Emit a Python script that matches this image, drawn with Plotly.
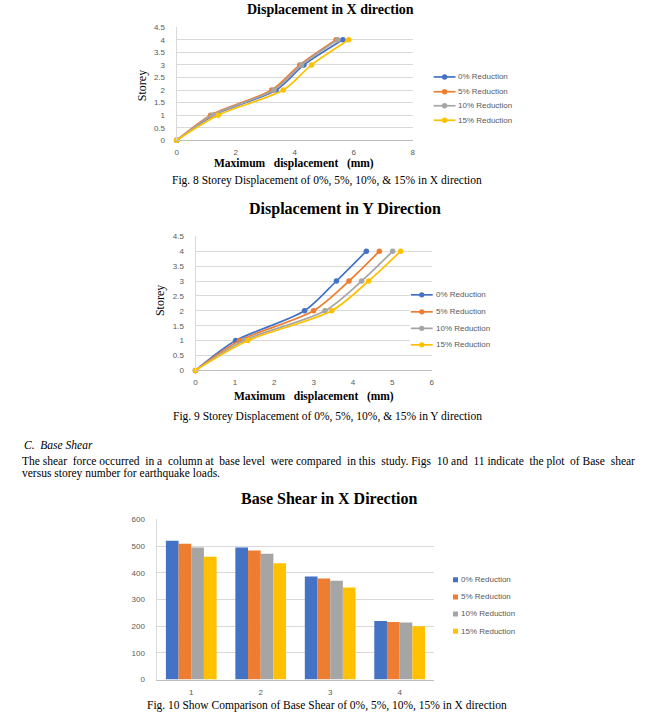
import plotly.graph_objects as go

W, H = 654, 719

# ---------------- data ----------------
series_names = ["0% Reduction", "5% Reduction", "10% Reduction", "15% Reduction"]
colors = ["#4472C4", "#ED7D31", "#A5A5A5", "#FFC000"]

storeys = [0, 1, 2, 3, 4]
disp_x_0 = [0, 1.26, 3.37, 4.31, 5.63]
disp_x_5 = [0, 1.15, 3.22, 4.17, 5.40]
disp_x_10 = [0, 1.21, 3.30, 4.23, 5.46]
disp_x_15 = [0, 1.40, 3.61, 4.57, 5.83]

disp_y_0 = [0, 1.02, 2.77, 3.58, 4.34]
disp_y_5 = [0, 1.12, 3.00, 3.90, 4.67]
disp_y_10 = [0, 1.23, 3.29, 4.22, 5.01]
disp_y_15 = [0, 1.33, 3.46, 4.40, 5.21]

storey_numbers = ["1", "2", "3", "4"]
shear_0 = [520, 495, 386, 219]
shear_5 = [509, 484, 379, 216]
shear_10 = [495, 471, 370, 214]
shear_15 = [460, 436, 345, 200]

disp_x = [disp_x_0, disp_x_5, disp_x_10, disp_x_15]
disp_y = [disp_y_0, disp_y_5, disp_y_10, disp_y_15]
shear = [shear_0, shear_5, shear_10, shear_15]

# vertical correction for the capture (observed scale/offset)
VS, VO = 0.987, 3.8


def px(x):
    return x / W


def py(y):
    return 1 - ((y - VO) / VS) / H


def dy(d):
    return (d / VS) / H


SERIF = "Liberation Serif"
SANS = "Liberation Sans"
TICK = dict(family=SANS, size=8, color="#595959")
GRID = "#D9D9D9"

fig = go.Figure()

for i in range(4):
    fig.add_trace(go.Scatter(
        x=disp_x[i], y=storeys, mode="lines+markers", name=series_names[i],
        line=dict(color=colors[i], width=1.7, shape="spline", smoothing=0.8),
        marker=dict(color=colors[i], size=5.5), cliponaxis=False,
        showlegend=False, xaxis="x", yaxis="y"))
for i in range(4):
    fig.add_trace(go.Scatter(
        x=disp_y[i], y=storeys, mode="lines+markers", name=series_names[i],
        line=dict(color=colors[i], width=1.7, shape="spline", smoothing=0.8),
        marker=dict(color=colors[i], size=5.5), cliponaxis=False,
        showlegend=False, xaxis="x2", yaxis="y2"))
for i in range(4):
    fig.add_trace(go.Bar(
        x=storey_numbers, y=shear[i], name=series_names[i],
        marker=dict(color=colors[i], line=dict(width=0)),
        showlegend=False, xaxis="x3", yaxis="y3"))

common_x = dict(showgrid=False, showline=True, linecolor="#BFBFBF", linewidth=1,
                ticks="", tickfont=TICK, zeroline=False, ticklabelstandoff=4)
common_y = dict(showgrid=True, gridcolor=GRID, gridwidth=1, showline=True,
                linecolor=GRID, linewidth=1, ticks="", tickfont=TICK,
                zeroline=False, ticklabelstandoff=9)

fig.update_layout(
    width=W, height=H, margin=dict(l=0, r=0, t=0, b=0),
    paper_bgcolor="white", plot_bgcolor="white", showlegend=False,
    barmode="group", bargap=0.27, bargroupgap=0,
    xaxis=dict(domain=[px(176), px(414)], range=[0, 8], dtick=2, anchor="y", **common_x),
    yaxis=dict(domain=[py(140), py(27)], range=[0, 4.5], dtick=0.5, anchor="x", **common_y),
    xaxis2=dict(domain=[px(195), px(433)], range=[0, 6], dtick=1, anchor="y2", **common_x),
    yaxis2=dict(domain=[py(370), py(236)], range=[0, 4.5], dtick=0.5, anchor="x2", **common_y),
    xaxis3=dict(domain=[px(155.7), px(435.7)], type="category", anchor="y3",
                **{**common_x, "ticklabelstandoff": 5}),
    yaxis3=dict(domain=[py(679), py(519)], range=[0, 600], dtick=100, anchor="x3",
                **common_y),
)

annotations = []
shapes = []


def text(x, y, s, size, family=SERIF, bold=False, italic=False, anchor="center",
         angle=0, color="black"):
    if bold:
        s = "<b>" + s + "</b>"
    if italic:
        s = "<i>" + s + "</i>"
    annotations.append(dict(x=px(x), y=py(y), xref="paper", yref="paper", text=s,
                            showarrow=False, xanchor=anchor, yanchor="middle",
                            textangle=angle, borderpad=0,
                            font=dict(family=family, size=size, color=color)))


NB = "\u00a0"
CAP = 11.5
# Chart 1
text(331, 9.5, "Displacement in X direction", 14, bold=True)
text(294, 163, "Maximum" + NB * 2 + " displacement" + NB * 2 + " (mm)", 11.5, bold=True)
text(141, 85, "Storey", 12, angle=-90)
text(328, 180, "Fig. 8 Storey Displacement of 0%, 5%, 10%, &amp; 15% in X direction", CAP)
# Chart 2
text(346, 209, "Displacement in Y Direction", 16, bold=True)
text(314, 396.5, "Maximum" + NB * 2 + " displacement" + NB * 2 + " (mm)", 11.5, bold=True)
text(160, 300, "Storey", 12, angle=-90)
text(328, 416.5, "Fig. 9 Storey Displacement of 0%, 5%, 10%, &amp; 15% in Y direction", CAP)
# Section text
text(21, 445, "C." + NB * 2 + "Base Shear", CAP, italic=True, anchor="left")
line1_words = ("The shear force occurred in a column at base level were compared in this study. "
               "Figs 10 and 11 indicate the plot of Base shear").split(" ")
line1 = ""
for k, w in enumerate(line1_words):
    if k > 0:
        line1 += " " + (NB if k % 2 == 0 else "")
    line1 += w
text(19.5, 461, line1, CAP, anchor="left")
text(19.5, 473.5, "versus storey number for earthquake loads.", CAP, anchor="left")
# Chart 3
text(330, 498, "Base Shear in X Direction", 16, bold=True)
text(327.5, 705, "Fig. 10 Show Comparison of Base Shear of 0%, 5%, 10%, 15% in X direction", CAP)

# white area where chart 2 legend overlaps the plot
shapes.append(dict(type="rect", xref="paper", yref="paper", x0=px(411), x1=px(434),
                   y0=py(352), y1=py(287), fillcolor="white", line=dict(width=0), layer="above"))


def line_legend(x0, x1, xm, xt, ys):
    for i, y in enumerate(ys):
        shapes.append(dict(type="line", xref="paper", yref="paper", x0=px(x0), x1=px(x1),
                           y0=py(y), y1=py(y), line=dict(color=colors[i], width=1.7),
                           layer="above"))
        r = 2.7
        shapes.append(dict(type="circle", xref="paper", yref="paper",
                           x0=px(xm - r), x1=px(xm + r), y0=py(y) - dy(r), y1=py(y) + dy(r),
                           fillcolor=colors[i], line=dict(width=0), layer="above"))
        text(xt, y, series_names[i], 8, family=SANS, anchor="left", color="#595959")


line_legend(435, 457, 446, 459, [76.7, 91.5, 105.5, 120])
line_legend(412, 434, 423, 436, [294.5, 311.5, 328, 344.5])

for i, y in enumerate([579.3, 596.5, 613.5, 630.7]):
    shapes.append(dict(type="rect", xref="paper", yref="paper", x0=px(454.5), x1=px(459.5),
                       y0=py(y) - dy(2.5), y1=py(y) + dy(2.5), fillcolor=colors[i],
                       line=dict(width=0), layer="above"))
    text(462, y, series_names[i], 8, family=SANS, anchor="left", color="#595959")

fig.update_layout(annotations=annotations, shapes=shapes)
fig.write_html(
    "out.html",
    config={"displayModeBar": False},
    post_script=(
        "var h=document.documentElement, b=document.body;"
        "h.style.margin='0'; h.style.padding='0'; h.style.overflow='hidden';"
        "b.style.margin='0'; b.style.padding='0'; b.style.overflow='hidden';"
    ),
)
